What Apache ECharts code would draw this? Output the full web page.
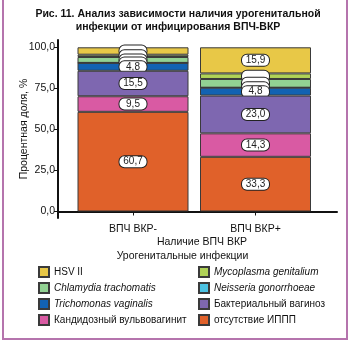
<!DOCTYPE html>
<html><head><meta charset="utf-8">
<script src="https://cdn.jsdelivr.net/npm/echarts@6/dist/echarts.min.js"></script>
<style>
html,body{margin:0;padding:0;background:#fff;}
#wrap{position:relative;width:350px;height:342px;overflow:hidden;}
#c{width:350px;height:342px;}
#frame{position:absolute;left:2px;top:-4px;width:346px;height:344px;box-sizing:border-box;border:2px solid #b574ad;pointer-events:none;}
</style></head>
<body><div id="wrap"><div id="c"></div><div id="frame"></div></div>
<script>
const categories = ['ВПЧ ВКР-', 'ВПЧ ВКР+'];
const yTicks = [0, 25, 50, 75, 100];
// stack order: bottom to top
const absentIPPP = [60.7, 33.3];
const candida = [9.5, 14.3];
const bacterialVag = [15.5, 23.0];
const trichomonas = [4.8, 4.8];
const neisseria = [0, 0];
const chlamydia = [3.6, 5.3];
const mycoplasma = [1.4, 3.4];
const hsv2 = [4.5, 15.9];

const names = {
  absent: 'отсутствие ИППП', candida: 'Кандидозный вульвовагинит', bv: 'Бактериальный вагиноз',
  trich: 'Trichomonas vaginalis', neis: 'Neisseria gonorrhoeae', chlam: 'Chlamydia trachomatis',
  myco: 'Mycoplasma genitalium', hsv: 'HSV II'
};
const colors = {
  absent: '#e0612a', candida: '#d95aa3', bv: '#7e67b0', trich: '#1262b2',
  neis: '#4cc2e2', chlam: '#92d293', myco: '#b0d257', hsv: '#e8c847'
};
const stackDefs = [
  ['absent', absentIPPP, true], ['candida', candida, true], ['bv', bacterialVag, true],
  ['trich', trichomonas, true], ['neis', neisseria, false], ['chlam', chlamydia, false],
  ['myco', mycoplasma, false], ['hsv', hsv2, 'big']
];
const FONT = 'Liberation Sans';
const fmt = v => v.toFixed(1).replace('.', ',');

const series = stackDefs.map((d, i) => ({
  name: names[d[0]], type: 'bar', stack: 'a', xAxisIndex: 0, yAxisIndex: 0,
  barWidth: 111, z: 20 - i,
  itemStyle: { color: colors[d[0]], borderColor: '#3a3a3a', borderWidth: 1 },
  label: {
    show: true, position: 'inside', fontFamily: FONT, fontSize: 10, color: '#222',
    backgroundColor: '#fff', borderColor: '#222', borderWidth: 1, borderRadius: 5,
    width: 25, height: 9, lineHeight: 10, padding: [1, 1], align: 'center',
    formatter: p => {
      const show = d[2] === true || (d[2] === 'big' && p.value >= 10);
      return show ? fmt(p.value) : ' ';
    }
  },
  data: d[1]
}));

const italic = new Set(['myco', 'neis', 'chlam', 'trich']);
const legendItem = k => ({ name: names[k], textStyle: { fontStyle: italic.has(k) ? 'italic' : 'normal' } });
const legendBase = {
  orient: 'vertical', top: 266, itemWidth: 10, itemHeight: 10, itemGap: 4,
  icon: 'rect', selectedMode: false, padding: 0,
  textStyle: { fontFamily: FONT, fontSize: 10, color: '#111' }
};

const chart = echarts.init(document.getElementById('c'), null, { renderer: 'canvas' });
chart.setOption({
  backgroundColor: '#fff',
  animation: false,
  title: [
    { text: 'Рис. 11. Анализ зависимости наличия урогенитальной\nинфекции от инфицирования ВПЧ-ВКР',
      left: 178, top: 8, textAlign: 'center', padding: 0,
      textStyle: { fontFamily: FONT, fontSize: 10.5, fontWeight: 'bold', color: '#111', lineHeight: 13 } },
    { text: 'Наличие ВПЧ ВКР', left: 202, top: 236, textAlign: 'center', padding: 0,
      textStyle: { fontFamily: FONT, fontSize: 10.5, fontWeight: 'normal', color: '#111', lineHeight: 12 } },
    { text: 'Урогенитальные инфекции', left: 182.5, top: 250, textAlign: 'center', padding: 0,
      textStyle: { fontFamily: FONT, fontSize: 10.5, fontWeight: 'normal', color: '#111', lineHeight: 12 } }
  ],
  grid: [
    { left: 71.75, right: 33.25, top: 40, bottom: 124 },
    { left: 58, right: 13, top: 40, bottom: 124 }
  ],
  xAxis: [
    { type: 'category', gridIndex: 0, data: categories,
      axisLine: { show: false },
      axisTick: { show: true, alignWithLabel: true, length: 4, lineStyle: { color: '#111', width: 1 } },
      axisLabel: { fontFamily: FONT, fontSize: 10.5, color: '#111', margin: 6 } },
    { type: 'value', gridIndex: 1, min: 0, max: 1,
      axisLine: { show: true, lineStyle: { color: '#111', width: 2 } },
      axisTick: { show: false }, axisLabel: { show: false }, splitLine: { show: false } }
  ],
  yAxis: [
    { type: 'value', gridIndex: 0, min: -3.96, max: 104.45, show: false, splitLine: { show: false } },
    { type: 'value', gridIndex: 1, min: -3.96, max: 104.45,
      name: 'Процентная доля, %', nameLocation: 'middle', nameGap: 28, nameRotate: 90,
      nameMoveOverlap: false,
      nameTextStyle: { fontFamily: FONT, fontSize: 10.5, color: '#111' },
      axisLine: { show: true, lineStyle: { color: '#111', width: 2 } },
      axisTick: { show: true, length: 4, customValues: yTicks, lineStyle: { color: '#111', width: 1 } },
      axisLabel: { fontFamily: FONT, fontSize: 10.5, color: '#111', margin: 3, customValues: yTicks,
        formatter: v => fmt(v) },
      splitLine: { show: false } }
  ],
  legend: [
    Object.assign({}, legendBase, { left: 38, data: ['hsv', 'chlam', 'trich', 'candida'].map(legendItem) }),
    Object.assign({}, legendBase, { left: 198, data: ['myco', 'neis', 'bv', 'absent'].map(legendItem) })
  ],
  series: series
});
</script></body></html>
